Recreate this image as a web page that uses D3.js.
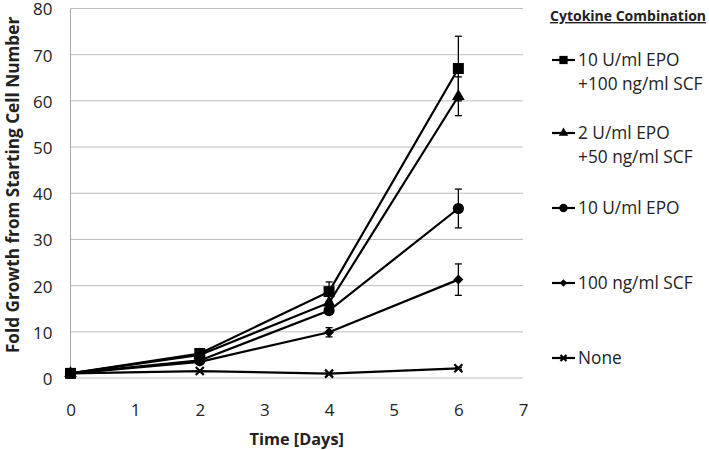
<!DOCTYPE html>
<html><head><meta charset="utf-8">
<script src="https://cdn.jsdelivr.net/npm/d3@7"></script>
<style>body{margin:0;background:#fff}</style>
</head><body>
<svg id="c" width="709" height="450"></svg>
<script>
const days = [0, 2, 4, 6];
const seriesNames = ["10 U/ml EPO\n+100 ng/ml SCF", "2 U/ml EPO\n+50 ng/ml SCF", "10 U/ml EPO", "100 ng/ml SCF", "None"];
const markers = ["square", "triangle", "circle", "diamond", "cross"];
const sqVals = [1, 5.3, 18.7, 67.0];
const sqErr = [0, 0.4, 2.1, 7.0];
const triVals = [1, 5.0, 16.3, 61.0];
const triErr = [0, 0.3, 1.5, 4.2];
const cirVals = [1, 3.8, 14.6, 36.7];
const cirErr = [0, 0.3, 0.8, 4.2];
const diaVals = [1, 3.5, 9.9, 21.3];
const diaErr = [0, 0.3, 1.0, 3.4];
const noneVals = [1, 1.5, 0.95, 2.1];
const noneErr = [0, 0.1, 0.1, 0.2];
const xTicks = [0, 1, 2, 3, 4, 5, 6, 7];
const yTicks = [0, 10, 20, 30, 40, 50, 60, 70, 80];
const legendTitle = "Cytokine Combination";
const xTitle = "Time [Days]";
const yTitle = "Fold Growth from Starting Cell Number";

const vals = [sqVals, triVals, cirVals, diaVals, noneVals];
const errs = [sqErr, triErr, cirErr, diaErr, noneErr];

const svg = d3.select("#c");
const font = "'Open Sans', sans-serif";
const x = d3.scaleLinear().domain([0, 7]).range([70.5, 523]);
const y = d3.scaleLinear().domain([0, 80]).range([378, 8.5]);

svg.append("g").selectAll("line").data(yTicks).join("line")
  .attr("x1", x(0)).attr("x2", x(7)).attr("y1", d => y(d)).attr("y2", d => y(d))
  .attr("stroke", "#bdbdbd").attr("stroke-width", 1);
svg.append("line").attr("x1", x(0)).attr("x2", x(0)).attr("y1", y(0)).attr("y2", y(80))
  .attr("stroke", "#a6a6a6").attr("stroke-width", 1);

const xAxis = svg.append("g").attr("transform", `translate(0,${y(0)})`)
  .call(d3.axisBottom(x).tickValues(xTicks).tickSize(0).tickPadding(26).tickFormat(d3.format("d")));
xAxis.select(".domain").remove();
xAxis.selectAll("text").attr("font-family", font).attr("font-size", 17).attr("fill", "#222");
const yAxis = svg.append("g").attr("transform", `translate(${x(0)},0)`)
  .call(d3.axisLeft(y).tickValues(yTicks).tickSize(0).tickPadding(18).tickFormat(d3.format("d")));
yAxis.select(".domain").remove();
yAxis.selectAll("text").attr("font-family", font).attr("font-size", 17).attr("fill", "#222").attr("dy", "0.38em");

svg.append("text").attr("x", x(3.5)).attr("y", 445).attr("text-anchor", "middle")
  .attr("font-family", font).attr("font-size", 16.3).attr("font-weight", "bold").attr("fill", "#222").text(xTitle);
svg.append("text").attr("transform", `translate(18.5,${y(41.8)}) rotate(-90)`).attr("text-anchor", "middle")
  .attr("font-family", font).attr("font-size", 17.2).attr("font-weight", "bold").attr("fill", "#222").text(yTitle);

function marker(g, type, cx, cy, s) {
  if (type === "square") g.append("rect").attr("x", cx - 5.5*s).attr("y", cy - 5.5*s).attr("width", 11*s).attr("height", 11*s).attr("fill", "#000");
  else if (type === "triangle") g.append("path").attr("d", d3.symbol(d3.symbolTriangle, 70*s*s)()).attr("transform", `translate(${cx},${cy})`).attr("fill", "#000");
  else if (type === "circle") g.append("circle").attr("cx", cx).attr("cy", cy).attr("r", 5.6*s).attr("fill", "#000");
  else if (type === "diamond") g.append("path").attr("d", `M0,${-5*s}L${5*s},0L0,${5*s}L${-5*s},0Z`).attr("transform", `translate(${cx},${cy})`).attr("fill", "#000");
  else if (type === "cross") g.append("path").attr("d", `M${-4*s},${-4*s}L${4*s},${4*s}M${-4*s},${4*s}L${4*s},${-4*s}`).attr("transform", `translate(${cx},${cy})`).attr("stroke", "#000").attr("stroke-width", 2.2);
}

const line = d3.line().x((d, i) => x(days[i])).y(d => y(d));
for (let s = vals.length - 1; s >= 0; s--) {
  const g = svg.append("g");
  vals[s].forEach((v, i) => {
    const e = errs[s][i];
    if (!e) return;
    const cx = x(days[i]);
    g.append("line").attr("x1", cx).attr("x2", cx).attr("y1", y(v - e)).attr("y2", y(v + e)).attr("stroke", "#000").attr("stroke-width", 1.3);
    [v - e, v + e].forEach(t => g.append("line").attr("x1", cx - 3.5).attr("x2", cx + 3.5).attr("y1", y(t)).attr("y2", y(t)).attr("stroke", "#000").attr("stroke-width", 1.3));
  });
  g.append("path").attr("d", line(vals[s])).attr("fill", "none").attr("stroke", "#000").attr("stroke-width", 2.2);
  vals[s].forEach((v, i) => marker(g, markers[s], x(days[i]), y(v), 1));
}

const lg = svg.append("g");
lg.append("text").attr("x", 550).attr("y", 21).attr("font-family", font).attr("font-size", 14)
  .attr("font-weight", "bold").attr("text-decoration", "underline").attr("fill", "#222").text(legendTitle);
const legY = [60, 133, 208, 283, 358];
seriesNames.forEach((name, i) => {
  const cy = legY[i];
  lg.append("line").attr("x1", 552).attr("x2", 575).attr("y1", cy).attr("y2", cy).attr("stroke", "#000").attr("stroke-width", 2.2);
  marker(lg, markers[i], 563.5, cy, 0.75);
  const t = lg.append("text").attr("x", 578).attr("y", cy + 6).attr("font-family", font).attr("font-size", 17.3).attr("fill", "#222");
  name.split("\n").forEach((ln, j) => t.append("tspan").attr("x", 578).attr("dy", j ? 23.5 : 0).text(ln));
});
</script>
</body></html>
